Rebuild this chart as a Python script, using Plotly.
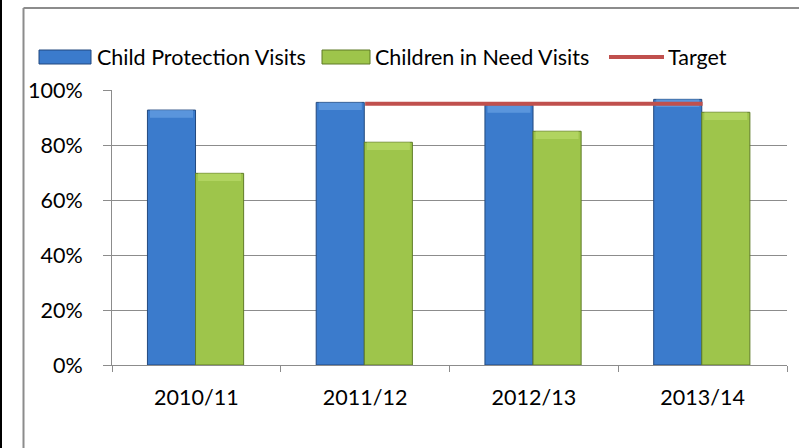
import plotly.graph_objects as go

# Data
years = ["2010/11", "2011/12", "2012/13", "2013/14"]
cp_visits = [0.927, 0.955, 0.945, 0.966]     # Child Protection Visits
cin_visits = [0.697, 0.810, 0.850, 0.919]    # Children in Need Visits
target_years = ["2011/12", "2012/13", "2013/14"]
target = [0.95, 0.95, 0.95]
series_names = ["Child Protection Visits", "Children in Need Visits", "Target"]
y_ticks = [0, 0.2, 0.4, 0.6, 0.8, 1.0]

W, H = 799, 448
L, R, T, B = 112, 12, 90, 83
FONT = "Lato"
TXT = 21.5

BLUE, BLUE_CAP, BLUE_EDGE = "#3B7BCC", "#6FA6E6", "#23497E"
GREEN, GREEN_CAP, GREEN_EDGE = "#9EC54B", "#BEDD6E", "#5F7B27"
RED = "#C0504D"

BAR_W = 0.285
CAP = 0.028

fig = go.Figure()

def add_bar(vals, colour, cap_colour, edge, offset):
    fig.add_trace(go.Bar(
        x=years, y=vals, width=BAR_W, offset=offset,
        marker=dict(color=colour, line=dict(color=edge, width=1)),
        showlegend=False, hoverinfo="skip"))
    # bevelled top face
    fig.add_trace(go.Bar(
        x=years, y=[CAP] * len(vals), base=[v - CAP for v in vals],
        width=BAR_W - 0.03, offset=offset + 0.015,
        marker=dict(color=cap_colour, line=dict(width=0), opacity=0.6),
        showlegend=False, hoverinfo="skip"))

add_bar(cp_visits, BLUE, BLUE_CAP, BLUE_EDGE, -0.29)
add_bar(cin_visits, GREEN, GREEN_CAP, GREEN_EDGE, -0.005)

fig.add_trace(go.Scatter(
    x=target_years, y=target, mode="lines",
    line=dict(color=RED, width=4), showlegend=False, hoverinfo="skip"))

# pixel -> paper helpers for the legend and frame
def px(x):
    return (x - L) / (W - L - R)

def py(y):
    return (H - B - y) / (H - T - B)

shapes = [
    dict(type="rect", xref="paper", yref="paper", x0=px(0), x1=px(2), y0=py(448), y1=py(0),
         fillcolor="black", line=dict(width=0), layer="above"),
    dict(type="line", xref="paper", yref="paper", x0=px(23.5), x1=px(23.5), y0=py(8), y1=py(448),
         line=dict(color="#8C8C8C", width=2)),
    dict(type="line", xref="paper", yref="paper", x0=px(23.5), x1=px(799), y0=py(8), y1=py(8),
         line=dict(color="#8C8C8C", width=2)),
    # legend keys
    dict(type="rect", xref="paper", yref="paper", x0=px(39), x1=px(91), y0=py(64), y1=py(50),
         fillcolor=BLUE, line=dict(color=BLUE_EDGE, width=1)),
    dict(type="rect", xref="paper", yref="paper", x0=px(322), x1=px(370), y0=py(64), y1=py(50),
         fillcolor=GREEN, line=dict(color=GREEN_EDGE, width=1)),
    dict(type="line", xref="paper", yref="paper", x0=px(609), x1=px(664), y0=py(57), y1=py(57),
         line=dict(color=RED, width=4)),
]

annotations = []
for name, x0 in zip(series_names, [95, 373, 666]):
    annotations.append(dict(
        text=name, xref="paper", yref="paper", x=px(x0), y=py(57),
        xanchor="left", yanchor="middle", showarrow=False,
        font=dict(family=FONT, size=TXT, color="black")))

fig.update_layout(
    width=W, height=H,
    margin=dict(l=L, r=R, t=T, b=B),
    paper_bgcolor="white", plot_bgcolor="white",
    barmode="overlay",
    showlegend=False,
    shapes=shapes,
    annotations=annotations,
    font=dict(family=FONT, size=TXT, color="black"),
)
fig.update_xaxes(
    type="category", range=[-0.5, 3.5],
    tickson="boundaries", ticks="outside", ticklen=6, tickcolor="#8C8C8C",
    showline=True, linecolor="#8C8C8C", linewidth=1,
    showgrid=False, ticklabelstandoff=13,
    tickfont=dict(family=FONT, size=TXT, color="black"),
)
fig.update_yaxes(
    range=[0, 1], tickvals=y_ticks, tickformat=".0%",
    ticks="outside", ticklen=8, tickcolor="#8C8C8C",
    showline=True, linecolor="#8C8C8C", linewidth=1,
    showgrid=True, gridcolor="#8C8C8C", gridwidth=1,
    zeroline=False, ticklabelstandoff=16,
    tickfont=dict(family=FONT, size=TXT, color="black"),
)

fig.write_html("out.html")
